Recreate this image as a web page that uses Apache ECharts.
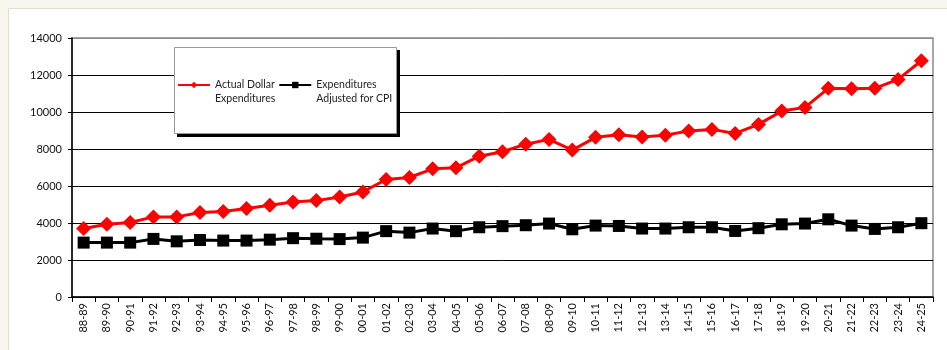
<!DOCTYPE html>
<html>
<head>
<meta charset="utf-8">
<script src="https://cdn.jsdelivr.net/npm/echarts@6/dist/echarts.min.js"></script>
<style>
  html, body { margin: 0; padding: 0; background: #f7f6ef; }
  #chart { width: 947px; height: 350px; }
</style>
</head>
<body>
<div id="chart"></div>
<script>
// Fiscal years
var years = ['88-89','89-90','90-91','91-92','92-93','93-94','94-95','95-96','96-97','97-98',
  '98-99','99-00','00-01','01-02','02-03','03-04','04-05','05-06','06-07','07-08',
  '08-09','09-10','10-11','11-12','12-13','13-14','14-15','15-16','16-17','17-18',
  '18-19','19-20','20-21','21-22','22-23','23-24','24-25'];

// Spending in nominal dollars
var actualDollars = [3700, 3930, 4030, 4330, 4330, 4570, 4620, 4780, 4960, 5140,
  5210, 5410, 5680, 6350, 6460, 6930, 6980, 7610, 7850, 8260,
  8520, 7940, 8630, 8770, 8650, 8750, 8970, 9060, 8840, 9330,
  10050, 10250, 11280, 11260, 11280, 11760, 12770];

// Spending deflated by CPI
var cpiAdjusted = [2940, 2940, 2940, 3140, 3010, 3080, 3050, 3050, 3100, 3180,
  3150, 3130, 3210, 3560, 3480, 3700, 3560, 3770, 3830, 3880,
  3970, 3660, 3860, 3840, 3700, 3700, 3770, 3770, 3570, 3720,
  3930, 3970, 4200, 3860, 3680, 3770, 3990];

var yTicks = { min: 0, max: 14000, step: 2000 };

var seriesNames = ['Actual Dollar\nExpenditures', 'Expenditures\nAdjusted for CPI'];

var FONT = 'Lato, "DejaVu Sans", sans-serif';

var chart = echarts.init(document.getElementById('chart'), null, { renderer: 'canvas' });

chart.setOption({
  backgroundColor: '#f7f6ef',
  animation: false,
  textStyle: { fontFamily: FONT },
  graphic: [
    // white page panel
    { type: 'rect', z: -10, silent: true,
      shape: { x: 8.5, y: 8.5, width: 960, height: 360 },
      style: { fill: '#ffffff', stroke: '#e2ddcc', lineWidth: 1 } },
    // legend frame with drop shadow
    { type: 'rect', z: 5, silent: true,
      shape: { x: 177, y: 50, width: 223, height: 87 },
      style: { fill: '#000000' } },
    { type: 'rect', z: 6, silent: true,
      shape: { x: 174.5, y: 47.5, width: 222, height: 86 },
      style: { fill: '#ffffff', stroke: '#999999', lineWidth: 1 } }
  ],
  legend: {
    z: 100,
    left: 177,
    top: 64,
    padding: 0,
    itemGap: 3,
    itemWidth: 32,
    itemHeight: 8,
    data: seriesNames,
    // blank first line keeps the icon level with the first text line
    formatter: function (name) { return '\n' + name; },
    textStyle: {
      fontFamily: FONT, fontSize: 10.5, color: '#222', lineHeight: 14
    }
  },
  grid: {
    left: 72, right: 14, top: 38, bottom: 53, containLabel: false,
    show: true, borderColor: '#8a8a8a', borderWidth: 1.5, backgroundColor: 'transparent'
  },
  xAxis: {
    type: 'category',
    data: years,
    boundaryGap: true,
    axisLine: { lineStyle: { color: '#000', width: 1.5 } },
    axisTick: { show: true, length: 5, lineStyle: { color: '#000' } },
    axisLabel: { rotate: 90, interval: 0, margin: 6, fontSize: 11, color: '#111', fontFamily: FONT },
    splitLine: { show: false }
  },
  yAxis: {
    type: 'value',
    min: yTicks.min,
    max: yTicks.max,
    interval: yTicks.step,
    axisLine: { show: true, lineStyle: { color: '#000', width: 1.5 } },
    axisTick: { show: true, length: 4, lineStyle: { color: '#000' } },
    axisLabel: {
      margin: 10, fontSize: 11, color: '#111', fontFamily: FONT,
      formatter: function (v) { return String(v); }
    },
    splitLine: {
      show: true,
      lineStyle: { color: ['#000', '#000', '#000', '#000', '#000', '#000', '#000', '#8a8a8a'], width: 1 }
    }
  },
  series: [
    {
      name: seriesNames[0],
      type: 'line',
      data: actualDollars,
      z: 3,
      symbol: 'diamond',
      symbolSize: 15,
      itemStyle: { color: '#ff0000' },
      lineStyle: { color: '#ff0000', width: 3 }
    },
    {
      name: seriesNames[1],
      type: 'line',
      data: cpiAdjusted,
      z: 3,
      symbol: 'rect',
      symbolSize: 12,
      itemStyle: { color: '#000000' },
      lineStyle: { color: '#000000', width: 3 }
    }
  ]
});
</script>
</body>
</html>
